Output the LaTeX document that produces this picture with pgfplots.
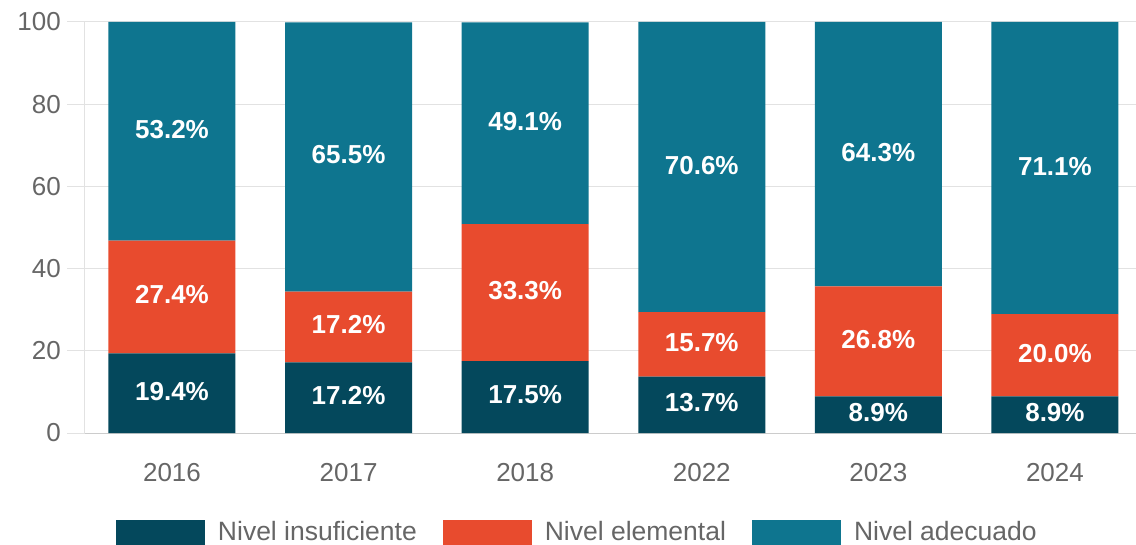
\documentclass[border=0pt]{standalone}
\usepackage{fontspec}
\setmainfont{Liberation Sans}
\usepackage{pgfplots}
\usepackage{pgfplotstable}
\pgfplotsset{compat=1.18}
\definecolor{cdark}{RGB}{4,72,92}
\definecolor{corange}{RGB}{232,75,46}
\definecolor{cteal}{RGB}{14,117,143}
\definecolor{cgrid}{RGB}{226,226,226}
\definecolor{caxis}{RGB}{204,204,204}
\definecolor{ctext}{RGB}{102,102,102}
\pgfplotsset{mylegend/.style={legend image code/.code={\fill[##1] (0pt,-16pt) rectangle (89pt,12pt);}}}
\pgfplotstableread{
x y
0 19.4
1 17.2
2 17.5
3 13.7
4 8.9
5 8.9
}\insuf
\pgfplotstableread{
x y
0 27.4
1 17.2
2 33.3
3 15.7
4 26.8
5 20.0
}\elem
\pgfplotstableread{
x y
0 53.2
1 65.5
2 49.1
3 70.6
4 64.3
5 71.1
}\adec
\begin{document}
\begin{tikzpicture}
\useasboundingbox (-85pt,-111pt) rectangle (1051pt,433pt);
\begin{axis}[
  scale only axis, width=1051pt, height=411pt,
  xmin=-0.4926, xmax=5.459, ymin=0, ymax=100,
  ybar stacked, bar width=127pt,
  xtick={0,1,2,3,4,5}, xticklabels={2016,2017,2018,2022,2023,2024},
  ytick={0,20,40,60,80,100},
  ymajorgrids, grid style={cgrid, line width=1pt},
  axis x line=bottom, axis y line=left,
  x axis line style={-, caxis, line width=1pt},
  y axis line style={-, cgrid, line width=1pt},
  tick align=outside,
  ytick style={cgrid, line width=1pt},
  major tick length=18pt,
  xtick style={draw=none},
  /pgf/number format/assume math mode=true,
  yticklabel style={font=\fontsize{26}{26}\selectfont, text=ctext, inner sep=0pt, xshift=-6pt},
  xticklabel style={font=\fontsize{26}{26}\selectfont, text=ctext, inner sep=0pt, yshift=-12pt},
  point meta=rawy,
  nodes near coords={\pgfmathprintnumber[fixed,fixed zerofill,precision=1]{\pgfplotspointmeta}\%},
  every node near coord/.append style={anchor=center, text=white, font=\bfseries\fontsize{26}{26}\selectfont, yshift=2pt},
  legend columns=-1,
  legend style={at={(0,0)}, anchor=north west, xshift=31pt, yshift=-87pt, draw=none, inner sep=0pt, outer sep=0pt, font=\fontsize{26.5}{26.5}\selectfont, text=ctext, nodes={inner sep=0pt}, /tikz/every odd column/.append style={column sep=13pt}, /tikz/every even column/.append style={column sep=26pt}},
]
\addplot[fill=cdark, draw=none, mylegend] table[x=x,y=y] {\insuf};
\addlegendentry{Nivel insuficiente}
\addplot[fill=corange, draw=none, mylegend] table[x=x,y=y] {\elem};
\addlegendentry{Nivel elemental}
\addplot[fill=cteal, draw=none, mylegend] table[x=x,y=y] {\adec};
\addlegendentry{Nivel adecuado}
\end{axis}
\end{tikzpicture}
\end{document}
